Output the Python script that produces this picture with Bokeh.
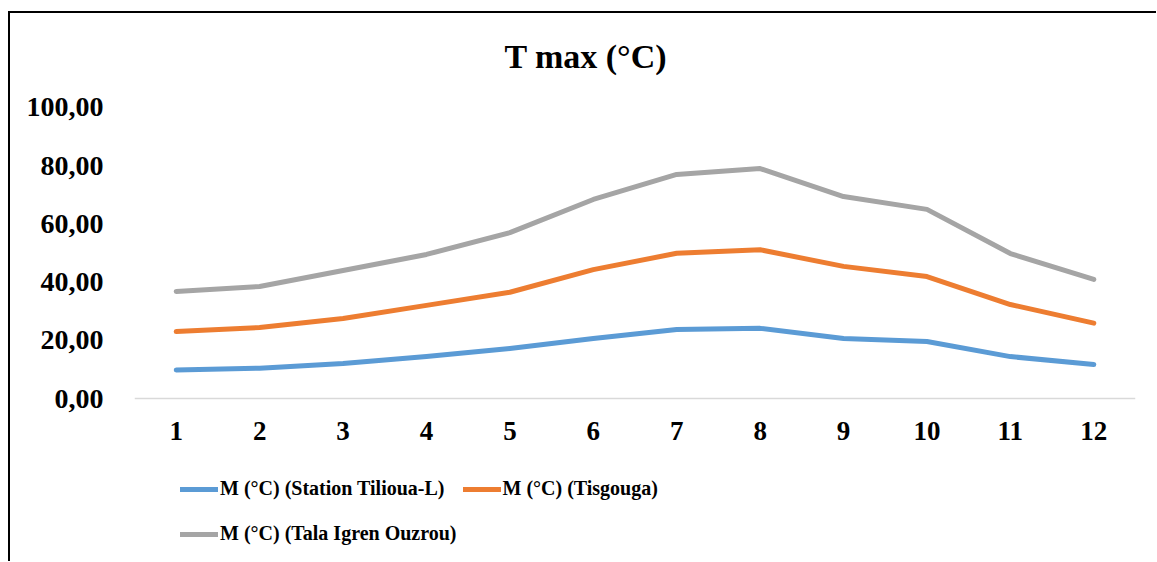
from bokeh.plotting import figure
from bokeh.models import FactorRange, Range1d, FixedTicker, Legend, LegendItem, CategoricalAxis, Label
from bokeh.embed import file_html
from bokeh.resources import INLINE

months = ["1", "2", "3", "4", "5", "6", "7", "8", "9", "10", "11", "12"]
tilioua = [9.8, 10.4, 12.0, 14.4, 17.2, 20.6, 23.7, 24.1, 20.6, 19.6, 14.4, 11.7]
tisgouga = [23.0, 24.4, 27.5, 32.0, 36.5, 44.3, 49.9, 51.1, 45.4, 41.9, 32.3, 25.9]
tala = [36.8, 38.5, 44.0, 49.5, 57.0, 68.4, 77.0, 79.0, 69.4, 65.0, 49.8, 40.9]
series_names = ["M (°C) (Station Tilioua-L)", "M (°C) (Tisgouga)", "M (°C) (Tala Igren Ouzrou)"]
series_colors = ["#5B9BD5", "#ED7D31", "#A5A5A5"]
y_ticks = [0, 20, 40, 60, 80, 100]
y_tick_labels = ["0,00", "20,00", "40,00", "60,00", "80,00", "100,00"]
title_text = "T max (°C)"

FONT = "Liberation Serif"

# The frame spans the whole chart area: room above 100 for the title and below 0 for the legend
p = figure(width=1148, height=550, x_range=FactorRange(*months, range_padding=0),
           y_range=Range1d(-56.7, 132.3), output_backend="svg", toolbar_location=None,
           min_border_left=124, min_border_right=23, min_border_top=0, min_border_bottom=0,
           x_axis_location=None)
p.margin = (11, 0, 0, 8)
p.styles = {"border-top": "2px solid #000", "border-left": "2px solid #000"}
p.outline_line_color = None
p.background_fill_color = "white"
p.border_fill_color = "white"

title = Label(x=5.41, y=117.5, text=title_text, text_align="center", text_baseline="middle",
              text_font=FONT, text_font_style="bold", text_font_size="34px", text_color="#000000")
p.add_layout(title)

xaxis = CategoricalAxis(fixed_location=0)
xaxis.axis_line_color = "#D9D9D9"
xaxis.axis_line_width = 1.5
xaxis.major_tick_line_color = None
xaxis.minor_tick_line_color = None
xaxis.major_label_text_font = FONT
xaxis.major_label_text_font_style = "bold"
xaxis.major_label_text_font_size = "27px"
xaxis.major_label_text_color = "#000000"
xaxis.major_label_standoff = 17
p.add_layout(xaxis, "below")

p.xgrid.grid_line_color = None
p.ygrid.grid_line_color = None

p.yaxis.axis_line_color = None
p.yaxis.major_tick_line_color = None
p.yaxis.minor_tick_line_color = None
p.yaxis.ticker = FixedTicker(ticks=y_ticks)
p.yaxis.major_label_overrides = {t: l for t, l in zip(y_ticks, y_tick_labels)}
p.yaxis.major_label_text_font = FONT
p.yaxis.major_label_text_font_style = "bold"
p.yaxis.major_label_text_font_size = "28px"
p.yaxis.major_label_text_color = "#000000"
p.yaxis.major_label_standoff = 25

items = []
for name, vals, col in zip(series_names, [tilioua, tisgouga, tala], series_colors):
    r = p.line(months, vals, line_color=col, line_width=5, line_cap="round", line_join="round")
    items.append(LegendItem(label=name, renderers=[r]))

common = dict(label_text_font=FONT, label_text_font_style="bold", label_text_font_size="20px",
              label_text_color="#000000", glyph_width=38, glyph_height=20, label_standoff=2,
              spacing=18, padding=0, margin=0, border_line_color=None,
              background_fill_alpha=0, label_height=27, orientation="horizontal")
legend1 = Legend(items=items[:2], location=(46, 61), **common)
legend2 = Legend(items=items[2:], location=(46, 16), **common)
p.add_layout(legend1, "center")
p.add_layout(legend2, "center")

open("out.html", "w").write(file_html(p, INLINE))
